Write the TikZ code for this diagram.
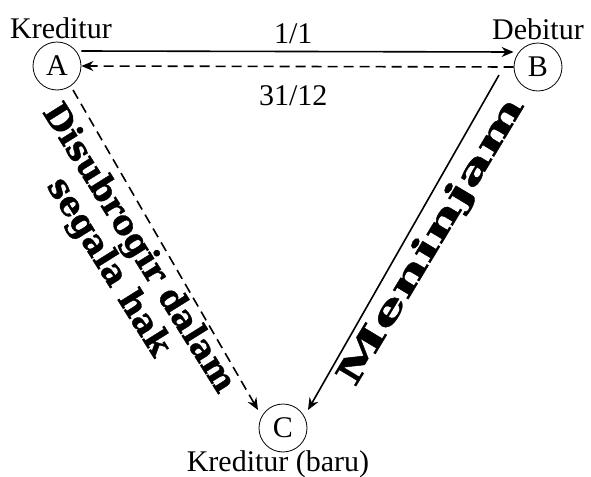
\documentclass[tikz,border=0pt]{standalone}
\usepackage{fontspec}
\setmainfont{Liberation Serif}
\newfontfamily\slabfont{DejaVu Serif Bold}[FakeBold=1]
\usetikzlibrary{arrows.meta,positioning,calc}
\tikzset{
  party/.style={draw,circle,minimum size=24pt,inner sep=0pt,font=\fontsize{15}{18}\selectfont},
  lbl/.style={font=\fontsize{15}{18}\selectfont},
  slab/.style={font=\slabfont\fontsize{17}{15}\selectfont,align=center},
  arr/.style={-{Stealth[length=6pt,width=5pt]},thick},
  darr/.style={-{Stealth[length=6pt,width=5pt]},thick,dash pattern=on 5pt off 3pt},
}
\begin{document}
\begin{tikzpicture}[x=0.5pt,y=-0.5pt]
  \useasboundingbox (0,0) rectangle (591,477);
  % the three parties
  \node[party] (A) at (57,66) {A};
  \node[party] (B) at (538,67) {B};
  \node[party] (C) at (283,428) {C};

  \node[lbl,above=-2pt of A,xshift=2pt] (kA) {Kreditur};
  \node[lbl,above=-2pt of B] (kB) {Debitur};
  \node[lbl,below=-4.5pt of C,xshift=-2.5pt] (kC) {Kreditur (baru)};

  % A <-> B
  \draw[arr]([yshift=7.5pt]A.east) -- node[lbl,above,pos=0.49]{1/1}([yshift=7.5pt]B.west);
  \draw[darr](B.west) -- node[lbl,below=6pt,pos=0.51]{31/12}(A.east);

  % to the new creditor
  \draw[darr]([xshift=8pt,yshift=-12pt]A.center) -- ([xshift=-12.5pt,yshift=9pt]C.center);
  \draw[arr]([xshift=-19.5pt,yshift=-4pt]B.center) -- ([xshift=12.5pt,yshift=9pt]C.center);

  \node[slab,rotate=-58] (sub) at (123,258) {Disubrogir dalam\\segala hak};
  \node[slab,rotate=59] (pinjam) at (432,242) {\scalebox{1.72}[1]{Meninjam}};
\end{tikzpicture}
\end{document}
